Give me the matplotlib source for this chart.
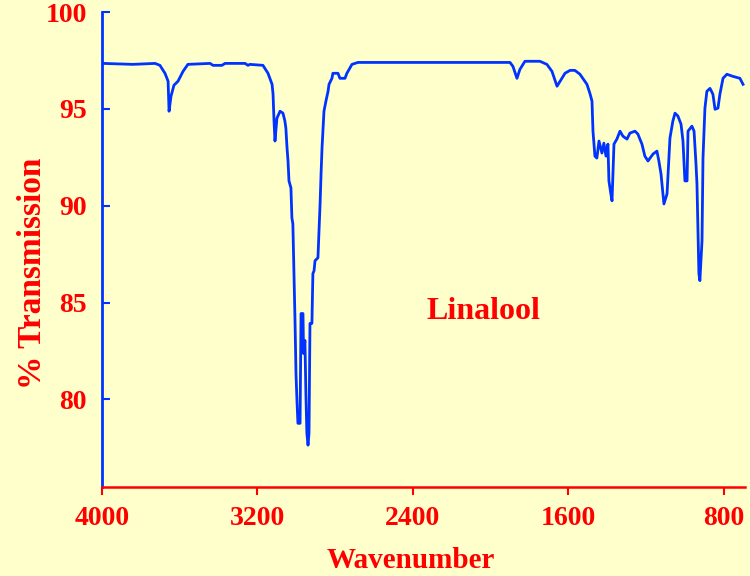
import matplotlib
matplotlib.use('Agg')
import matplotlib.pyplot as plt

# IR spectrum of linalool
wavenumber = [3995, 3841, 3727, 3702, 3676, 3660, 3655, 3645, 3630, 3609,
              3583, 3558, 3444, 3429, 3383, 3367, 3264, 3249, 3239, 3172,
              3146, 3125, 3120, 3115, 3110, 3100, 3084, 3069, 3059, 3054,
              3048, 3043, 3038, 3028, 3023, 3018, 3012, 3007, 3002, 2997,
              2992, 2981, 2976, 2966, 2963, 2956, 2951, 2946, 2940, 2935,
              2930, 2920, 2915, 2909, 2904, 2889, 2884, 2878, 2873, 2868,
              2858, 2848, 2837, 2832, 2817, 2812, 2786, 2776, 2750, 2740,
              2714, 2683, 2611, 2467, 1901, 1886, 1865, 1850, 1824, 1747,
              1711, 1685, 1659, 1634, 1618, 1592, 1567, 1541, 1505, 1490,
              1479, 1474, 1464, 1454, 1443, 1428, 1418, 1407, 1397, 1392,
              1382, 1376, 1371, 1366, 1351, 1335, 1320, 1299, 1284, 1258,
              1243, 1222, 1207, 1191, 1165, 1145, 1135, 1124, 1114, 1109,
              1093, 1078, 1063, 1052, 1037, 1021, 1011, 1001, 990, 985,
              965, 954, 944, 939, 934, 929, 924, 913, 908, 898,
              888, 872, 857, 846, 831, 821, 805, 785, 754, 718, 702]
transmission = [97.35, 97.30, 97.35, 97.25, 96.84, 96.43, 94.88, 95.65, 96.22, 96.43,
                96.94, 97.30, 97.35, 97.25, 97.25, 97.35, 97.35, 97.25, 97.30, 97.25,
                96.84, 96.27, 95.76, 94.37, 93.34, 94.52, 94.88, 94.78, 94.37, 94.00,
                92.98, 92.31, 91.28, 90.92, 89.37, 89.06, 86.28, 84.07, 81.34, 79.95,
                78.76, 78.76, 84.43, 84.43, 82.37, 83.04, 80.31, 78.25, 77.63, 78.25,
                83.92, 83.92, 86.49, 86.64, 87.16, 87.31, 88.55, 90.09, 91.64, 92.98,
                94.88, 95.40, 95.91, 96.27, 96.58, 96.84, 96.84, 96.58, 96.58, 96.84,
                97.30, 97.40, 97.40, 97.40, 97.40, 97.20, 96.58, 97.04, 97.46, 97.46,
                97.30, 96.94, 96.17, 96.58, 96.84, 96.99, 96.99, 96.79, 96.27, 95.81,
                95.40, 93.85, 92.56, 92.46, 93.34, 92.72, 93.23, 92.56, 93.18, 91.28,
                90.61, 90.25, 91.79, 93.18, 93.44, 93.85, 93.59, 93.44, 93.75, 93.85,
                93.70, 93.18, 92.56, 92.31, 92.67, 92.82, 92.31, 91.64, 90.61, 90.09,
                90.61, 93.49, 94.37, 94.78, 94.63, 94.21, 93.34, 91.28, 91.28, 93.85,
                94.11, 93.85, 92.15, 91.12, 88.70, 86.49, 86.13, 88.19, 92.46, 95.04,
                95.91, 96.06, 95.76, 94.98, 95.04, 95.76, 96.58, 96.79, 96.68, 96.58, 96.27]

x_ticks = [4000, 3200, 2400, 1600, 800]
y_ticks = [80, 85, 90, 95, 100]

bg = '#FFFFCC'
red = '#FF0000'
blue = '#0033FF'
font = 'Liberation Serif'

fig = plt.figure(figsize=(7.5, 5.76), dpi=100, facecolor=bg)
ax = fig.add_axes([0.136, 0.1545, 0.8573, 0.8245], facecolor=bg)

ax.plot(wavenumber, transmission, color=blue, lw=2.0)

ax.set_xlim(4000, 692)
ax.set_ylim(75.47, 100)
ax.set_xticks(x_ticks)
ax.set_yticks(y_ticks)

for s in ['top', 'right']:
    ax.spines[s].set_visible(False)
ax.spines['left'].set_color(blue)
ax.spines['left'].set_linewidth(2)
ax.spines['bottom'].set_color(red)
ax.spines['bottom'].set_linewidth(1.8)

ax.tick_params(axis='x', direction='out', length=6, width=1.5, color=red,
               labelcolor=red, labelsize=20, pad=8)
ax.tick_params(axis='y', direction='in', length=6, width=1.5, color=blue,
               labelcolor=red, labelsize=20, pad=11)
for lab in ax.get_xticklabels() + ax.get_yticklabels():
    lab.set_fontfamily(font)
    lab.set_fontweight('bold')

ax.text(2040, 84.17, 'Linalool', color=red, fontsize=23, fontweight='bold',
        family=font, ha='center', va='baseline')

fig.text(0.548, 0.014, 'Wavenumber', color=red, fontsize=21, fontweight='bold',
         family=font, ha='center', va='baseline')
fig.text(0.044, 0.526, '% Transmission', color=red, fontsize=24, fontweight='bold',
         family=font, ha='center', va='center', rotation=90)

fig.savefig('out.png', dpi=100, facecolor=bg)
